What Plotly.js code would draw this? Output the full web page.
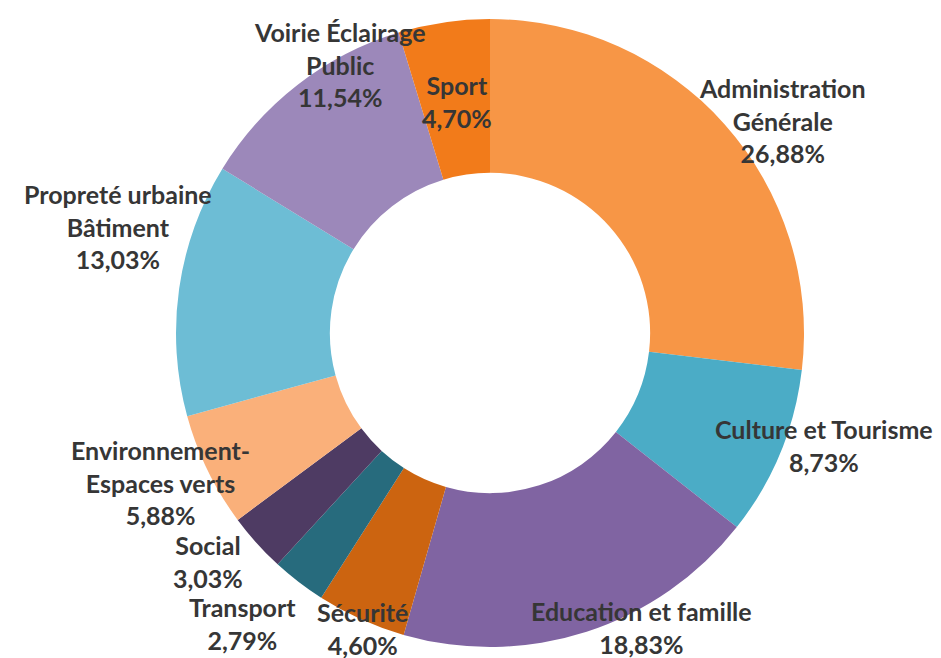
<!DOCTYPE html>
<html>
<head>
<meta charset="utf-8">
<script src="https://cdn.plot.ly/plotly-3.0.1.min.js"></script>
<style>html,body{margin:0;padding:0;background:#fff;}#chart{width:941px;height:658px;}</style>
</head>
<body>
<div id="chart"></div>
<script>
// Data
const categories = ['Administration Générale', 'Culture et Tourisme', 'Education et famille', 'Sécurité', 'Transport', 'Social', 'Environnement-Espaces verts', 'Propreté urbaine Bâtiment', 'Voirie Éclairage Public', 'Sport'];
const displayLabels = ['Administration<br>Générale', 'Culture et Tourisme', 'Education et famille', 'Sécurité', 'Transport', 'Social', 'Environnement-<br>Espaces verts', 'Propreté urbaine<br>Bâtiment', 'Voirie Éclairage<br>Public', 'Sport'];
const shares = [26.88, 8.73, 18.83, 4.60, 2.79, 3.03, 5.88, 13.03, 11.54, 4.70];
const colors = ['#F79646', '#4BACC6', '#8064A2', '#CC6410', '#276B7D', '#4E3B63', '#FAB07A', '#6DBDD5', '#9C88BA', '#F27B1A'];

// Label anchor positions (pixels from top-left)
const W = 941, H = 658;
const labelPos = [[782, 121], [824, 445], [641, 627], [362, 628], [242, 623], [208, 561], [160, 482], [118, 227], [340, 64], [457, 101]];

const fmt = v => v.toFixed(2).replace('.', ',') + '%';

const annotations = categories.map((c, i) => ({
  x: labelPos[i][0] / W,
  y: 1 - labelPos[i][1] / H,
  xref: 'paper', yref: 'paper',
  xanchor: 'center', yanchor: 'middle',
  text: displayLabels[i] + '<br>' + fmt(shares[i]),
  showarrow: false,
  align: 'center',
  font: {family: 'Lato, sans-serif', size: 25, color: '#363636', weight: 700}
}));

const trace = {
  type: 'pie',
  labels: categories,
  values: shares,
  sort: false,
  direction: 'clockwise',
  rotation: 0,
  hole: 0.51,
  textinfo: 'none',
  hoverinfo: 'none',
  marker: {colors: colors, line: {width: 0}},
  domain: {x: [176 / W, 804 / W], y: [1 - 647 / H, 1 - 19 / H]}
};

const layout = {
  width: W, height: H,
  margin: {l: 0, r: 0, t: 0, b: 0},
  showlegend: false,
  paper_bgcolor: '#ffffff',
  annotations: annotations
};

Plotly.newPlot('chart', [trace], layout, {displayModeBar: false, staticPlot: true});
</script>
</body>
</html>
